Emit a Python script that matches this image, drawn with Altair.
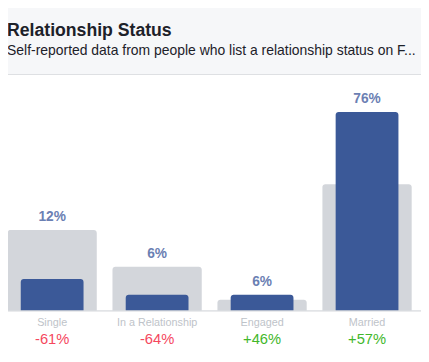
import altair as alt
import pandas as pd

categories = ["Single", "In a Relationship", "Engaged", "Married"]
audience = [12, 6, 6, 76]
baseline = [30.8, 16.7, 4.1, 48.4]
labels = ["12%", "6%", "6%", "76%"]
changes = ["-61%", "-64%", "+46%", "+57%"]
change_colors = ["#f5475e", "#f5475e", "#42b72a", "#42b72a"]

title_text = "Relationship Status"
subtitle_text = "Self-reported data from people who list a relationship status on F..."

df = pd.DataFrame({
    "cat": categories,
    "idx": list(range(len(categories))),
    "aud": audience,
    "base": baseline,
    "label": labels,
    "change": changes,
    "ccol": change_colors,
})

FONT = "Liberation Sans"
W, H = 421, 340

xscale = alt.Scale(domain=[-0.5, 3.5], range=[-8.5, 419.5], nice=False, zero=False, padding=0)
xenc = alt.X("idx:Q", scale=xscale, axis=None)
yscale = alt.Scale(domain=[0, 100], range=[305, 39], padding=0)

base = alt.Chart(df)

header = alt.Chart(pd.DataFrame({"a": [0]})).mark_rect(color="#f6f7f9").encode(
    x=alt.value(-8), x2=alt.value(421), y=alt.value(-8), y2=alt.value(64)
)
header_line = alt.Chart(pd.DataFrame({"a": [0]})).mark_rule(color="#dddfe2", strokeWidth=1).encode(
    x=alt.value(-8), x2=alt.value(421), y=alt.value(64.5)
)
title = alt.Chart(pd.DataFrame({"t": [title_text]})).mark_text(
    font=FONT, fontSize=18, fontWeight="bold", color="#1d2129", align="left", baseline="alphabetic"
).encode(x=alt.value(-1), y=alt.value(25), text="t:N")
subtitle = alt.Chart(pd.DataFrame({"t": [subtitle_text]})).mark_text(
    font=FONT, fontSize=14.2, color="#1d2129", align="left", baseline="alphabetic"
).encode(x=alt.value(-1), y=alt.value(45), text="t:N")

gray = base.mark_bar(color="#d3d6db", size=91, cornerRadiusTopLeft=3, cornerRadiusTopRight=3).encode(
    x=xenc, y=alt.Y("base:Q", scale=yscale, axis=None), y2=alt.datum(0)
)
blue = base.mark_bar(color="#3b5998", size=64, cornerRadiusTopLeft=3, cornerRadiusTopRight=3).encode(
    x=xenc, y=alt.Y("aud:Q", scale=yscale, axis=None), y2=alt.datum(0)
)
axis_line = alt.Chart(pd.DataFrame({"a": [0]})).mark_rule(color="#ccd0d5", strokeWidth=1).encode(
    x=alt.value(-8), x2=alt.value(421), y=alt.value(305.5)
)
val_text = base.transform_calculate(top="max(datum.aud, datum.base)").mark_text(
    font=FONT, fontSize=14, fontWeight="bold", color="#6b80b3", baseline="alphabetic", dy=-9
).encode(x=xenc, y=alt.Y("top:Q", scale=yscale, axis=None), text="label:N")
cat_text = base.mark_text(
    font=FONT, fontSize=11, color="#bec3c9", baseline="middle"
).encode(x=xenc, y=alt.value(318), text="cat:N")
chg_text = base.mark_text(
    font=FONT, fontSize=15, baseline="middle"
).encode(x=xenc, y=alt.value(334.5), text="change:N",
         color=alt.Color("ccol:N", scale=None))

chart = alt.layer(
    header, header_line, title, subtitle, gray, blue, axis_line, val_text, cat_text, chg_text
).properties(
    width=W, height=H, padding=0, autosize=alt.AutoSizeParams(type="none")
).configure_view(stroke=None)

chart.save("out.html", embed_options={"renderer": "svg", "actions": False})
